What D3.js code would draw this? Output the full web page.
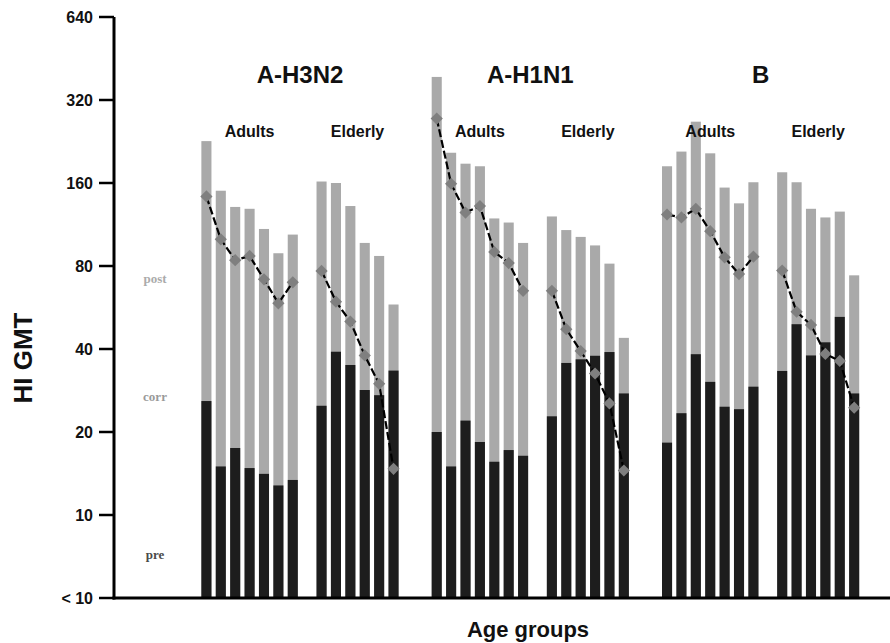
<!DOCTYPE html>
<meta charset="utf-8">
<style>
body { margin: 0; background: #fff; }
text { font-family: Arial, "Liberation Sans", sans-serif; }
.tick-label { font-size: 16px; font-weight: bold; fill: #111; }
.strain { font-size: 24px; font-weight: bold; fill: #111; }
.age { font-size: 16px; font-weight: bold; fill: #111; }
.axis-title { font-weight: bold; fill: #111; }
.key { font-family: "Liberation Serif", "DejaVu Serif", serif; font-size: 13px; font-weight: bold; }
</style>
<body>
<script src="https://cdn.jsdelivr.net/npm/d3@7"></script>
<script>

// ---- data (HI GMT) ----
var strains = ["A-H3N2", "A-H1N1", "B"];
var ageGroups = ["Adults", "Elderly"];
var adultsCount = 7, elderlyCount = 6;

// first 7 = adults, last 6 = elderly
var postH3N2 = [227, 150, 131, 129, 109, 89, 104,   162, 160, 132, 97, 87, 58];
var preH3N2  = [25.9, 15.0, 17.5, 14.8, 14.1, 12.8, 13.4,   24.9, 39.1, 35, 28.4, 27.2, 33.4];
var corrH3N2 = [143, 100, 84, 87, 71.6, 58.6, 69.8,   76.8, 59.4, 50.3, 37.9, 29.9, 14.7];

var postH1N1 = [388, 206, 188, 184, 119, 115, 97,   121, 108, 102, 95, 81.6, 43.9];
var preH1N1  = [20, 15, 22, 18.4, 15.6, 17.2, 16.4,   22.8, 35.6, 36.7, 37.8, 39, 27.6];
var corrH1N1 = [274, 159, 125, 132, 90, 82, 65,   65, 47.2, 39.3, 32.6, 25.4, 14.5];

var postB = [184, 208, 267, 205, 154, 135, 161,   175, 161, 129, 120, 126, 74];
var preB  = [18.3, 23.4, 38.3, 30.4, 24.7, 24.2, 29.2,   33.3, 49.2, 37.9, 42.3, 52.3, 27.6];
var corrB = [123, 120, 129, 107, 86, 74.8, 86.5,   77, 54.6, 48.9, 38.4, 36.2, 24.5];

var tickValues = [5, 10, 20, 40, 80, 160, 320, 640];
var tickLabels = ["< 10", "10", "20", "40", "80", "160", "320", "640"];
var keyLabels = ["post", "corr", "pre"];
var keyValues = [72, 27, 7.2];

var post = [postH3N2, postH1N1, postB];
var pre = [preH3N2, preH1N1, preB];
var corr = [corrH3N2, corrH1N1, corrB];

// ---- layout ----
var W = 890, H = 643;
var x0 = 114, yBottom = 598, yTop = 17;

var svg = d3.select("body").append("svg").attr("width", W).attr("height", H);

// slot keys: leading gaps, then per strain adults, gap, elderly, 2 gaps
var slots = [];
for (var g = 0; g < 6; g++) slots.push("lead" + g);
strains.forEach(function(s) {
    for (var i = 0; i < adultsCount; i++) slots.push(s + "-A" + i);
    slots.push(s + "-gap");
    for (var j = 0; j < elderlyCount; j++) slots.push(s + "-E" + j);
    slots.push(s + "-gap1");
    slots.push(s + "-gap2");
});

var x = d3.scaleBand().domain(slots).range([x0 + 1, 888]).paddingInner(0.3).paddingOuter(0);
var y = d3.scaleLog().base(2).domain([5, 640]).range([yBottom, yTop]);

function slotKey(s, k) {
    return k < adultsCount ? s + "-A" + k : s + "-E" + (k - adultsCount);
}

// flatten into bar records
var bars = [];
strains.forEach(function(s, si) {
    post[si].forEach(function(v, k) {
        bars.push({ strain: s, age: k < adultsCount ? 0 : 1, key: slotKey(s, k),
                    post: v, pre: pre[si][k], corr: corr[si][k] });
    });
});

// gray (post) bars
svg.append("g").selectAll("rect").data(bars).enter().append("rect")
    .attr("x", function(d) { return x(d.key); })
    .attr("y", function(d) { return y(d.post); })
    .attr("width", x.bandwidth())
    .attr("height", function(d) { return yBottom - y(d.post); })
    .style("fill", "#a9a9a9");

// black (pre) bars
svg.append("g").selectAll("rect").data(bars).enter().append("rect")
    .attr("x", function(d) { return x(d.key); })
    .attr("y", function(d) { return y(d.pre); })
    .attr("width", x.bandwidth())
    .attr("height", function(d) { return yBottom - y(d.pre); })
    .style("fill", "#1d1d1d");

// corr lines, one per strain and age group
var line = d3.line()
    .x(function(d) { return x(d.key) + x.bandwidth() / 2; })
    .y(function(d) { return y(d.corr); });

strains.forEach(function(s) {
    [0, 1].forEach(function(a) {
        var pts = bars.filter(function(d) { return d.strain === s && d.age === a; });
        svg.append("path").datum(pts)
            .attr("d", line)
            .style("fill", "none")
            .style("stroke", "#000")
            .style("stroke-width", 2.2)
            .style("stroke-dasharray", "8,3");
    });
});

// diamonds
svg.append("g").selectAll("path").data(bars).enter().append("path")
    .attr("d", d3.symbol().type(d3.symbolDiamond2).size(95))
    .attr("transform", function(d) {
        return "translate(" + (x(d.key) + x.bandwidth() / 2) + "," + y(d.corr) + ")";
    })
    .style("fill", "#7f7f7f");

// axes
svg.append("line").attr("x1", x0).attr("x2", x0).attr("y1", yTop).attr("y2", yBottom + 1.5)
    .style("stroke", "#000").style("stroke-width", 3);
svg.append("line").attr("x1", x0 - 1.5).attr("x2", W).attr("y1", yBottom).attr("y2", yBottom)
    .style("stroke", "#000").style("stroke-width", 3);

var ticks = svg.append("g");
tickValues.forEach(function(v, i) {
    ticks.append("line").attr("x1", 99).attr("x2", x0).attr("y1", y(v)).attr("y2", y(v))
        .style("stroke", "#000").style("stroke-width", 2.5);
    ticks.append("text").attr("class", "tick-label")
        .attr("x", 93).attr("y", y(v)).attr("dy", "0.36em")
        .attr("text-anchor", "end")
        .text(tickLabels[i]);
});

// key labels on the left
var keyColors = ["#ababab", "#9a9a9a", "#4a4a4a"];
keyLabels.forEach(function(k, i) {
    svg.append("text").attr("class", "key")
        .attr("x", 155).attr("y", y(keyValues[i])).attr("dy", "0.35em")
        .attr("text-anchor", "middle")
        .style("fill", keyColors[i])
        .text(k);
});

// strain titles and age labels
strains.forEach(function(s) {
    var left = x(s + "-A0"), right = x(s + "-E" + (elderlyCount - 1)) + x.bandwidth();
    svg.append("text").attr("class", "strain")
        .attr("x", (left + right) / 2).attr("y", 83)
        .attr("text-anchor", "middle").text(s);
    ageGroups.forEach(function(a, ai) {
        var l = ai === 0 ? x(s + "-A0") : x(s + "-E0");
        var r = ai === 0 ? x(s + "-A" + (adultsCount - 1)) : x(s + "-E" + (elderlyCount - 1));
        r += x.bandwidth();
        svg.append("text").attr("class", "age")
            .attr("x", (l + r) / 2).attr("y", 137)
            .attr("text-anchor", "middle").text(a);
    });
});

// axis titles
svg.append("text").attr("class", "axis-title")
    .attr("transform", "translate(32,358) rotate(-90)")
    .attr("text-anchor", "middle")
    .style("font-size", "26px")
    .text("HI GMT");

svg.append("text").attr("class", "axis-title")
    .attr("x", 528).attr("y", 637)
    .attr("text-anchor", "middle")
    .style("font-size", "22px")
    .text("Age groups");

</script>
</body>
